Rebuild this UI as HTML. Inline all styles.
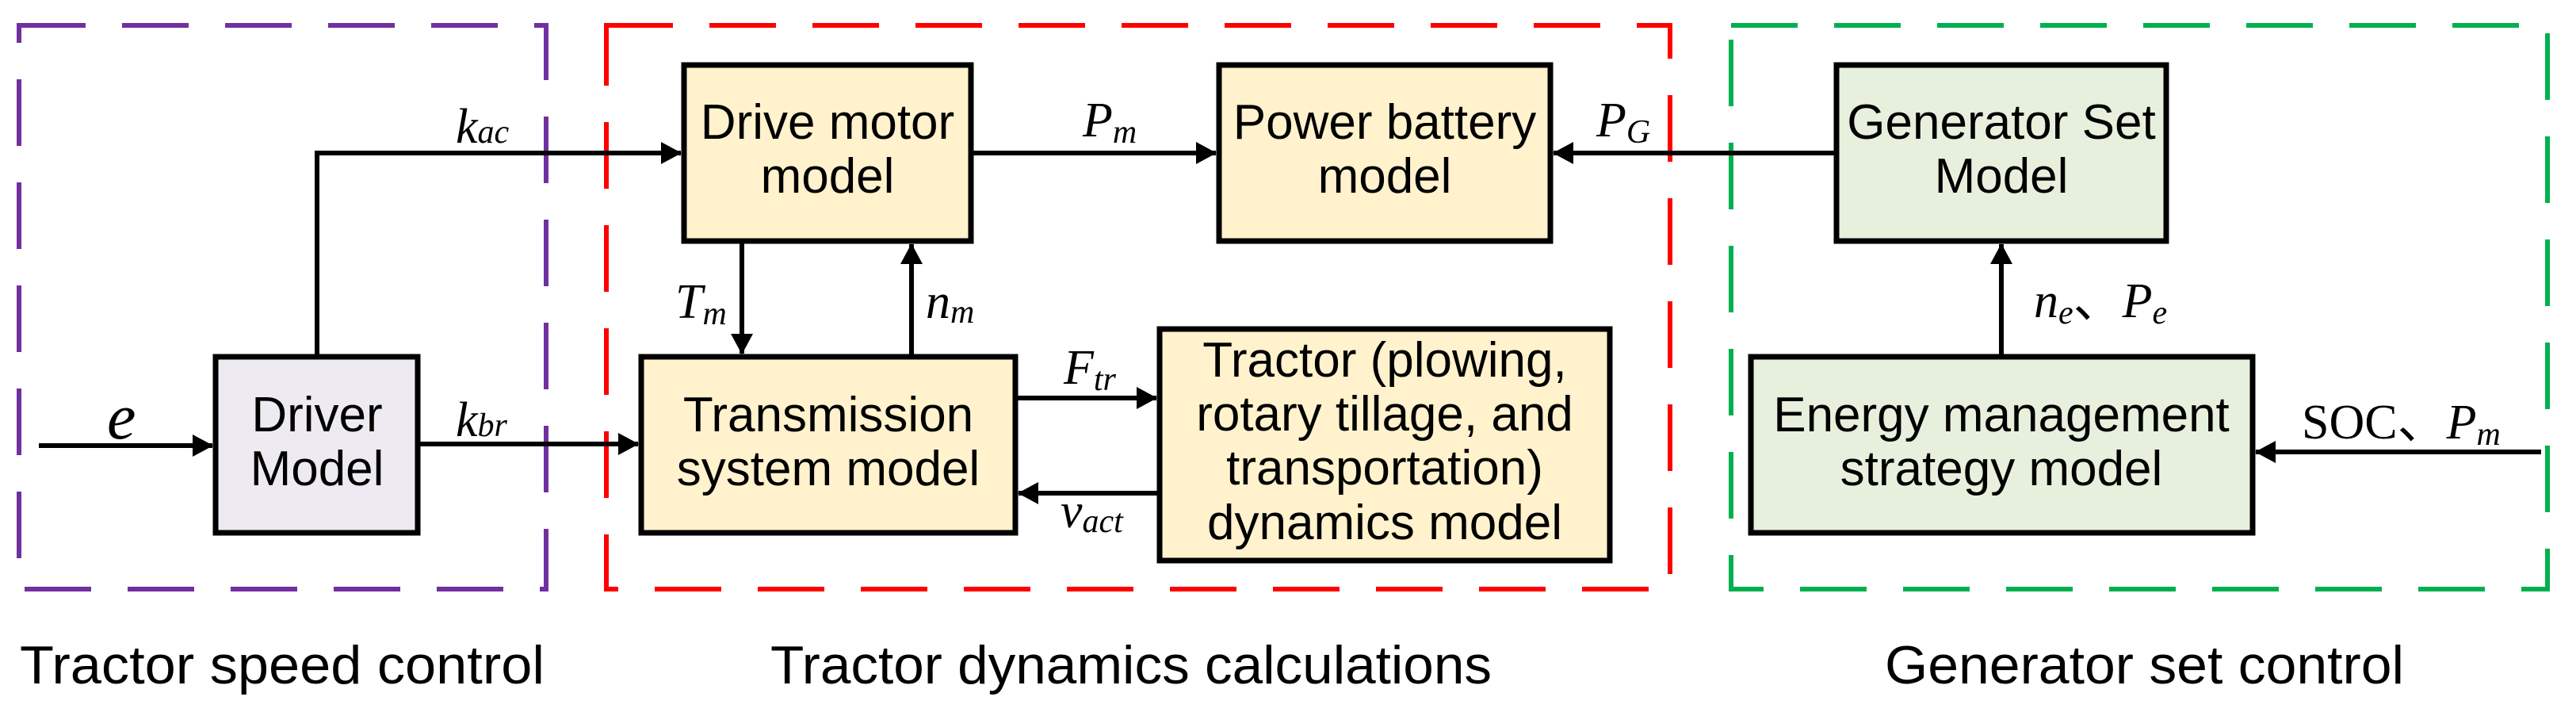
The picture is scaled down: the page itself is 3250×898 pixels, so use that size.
<!DOCTYPE html>
<html><head><meta charset="utf-8"><style>
html,body{margin:0;padding:0;background:#fff;}
svg{display:block;}
.b{font-family:"Liberation Sans",sans-serif;font-size:62px;fill:#000;text-anchor:middle;}
.m{font-family:"Liberation Serif",serif;font-style:italic;font-size:62px;fill:#000;}
.s{font-size:42px;}
.cap{font-family:"Liberation Sans",sans-serif;font-size:68px;fill:#000;}
</style></head><body>
<svg width="3250" height="898" viewBox="0 0 3250 898" xmlns="http://www.w3.org/2000/svg">
<defs>
<marker id="a" markerWidth="26" markerHeight="28" refX="25" refY="14" orient="auto" markerUnits="userSpaceOnUse">
<path d="M0,0 L26,14 L0,28 Z" fill="#000"/></marker>
</defs>
<g fill="none" stroke-width="6" stroke-dasharray="84 46">
<rect x="24" y="32" width="665" height="711" stroke="#7030A0"/>
<rect x="765" y="32" width="1342" height="711" stroke="#FF0000"/>
<rect x="2184" y="32" width="1030" height="711" stroke="#00B050"/>
</g>
<g stroke="#000" stroke-width="7">
<rect x="272" y="450" width="255" height="222" fill="#EEEAF1"/>
<rect x="863" y="82" width="362" height="222" fill="#FFF2CC"/>
<rect x="809" y="450" width="472" height="222" fill="#FFF2CC"/>
<rect x="1538" y="82" width="418" height="222" fill="#FFF2CC"/>
<rect x="1463" y="415" width="568" height="292" fill="#FFF2CC"/>
<rect x="2317" y="82" width="416" height="222" fill="#E7F0DD"/>
<rect x="2209" y="450" width="633" height="222" fill="#E7F0DD"/>
</g>
<g stroke="#000" stroke-width="6" fill="none">
<line x1="49" y1="562" x2="268" y2="562" marker-end="url(#a)"/>
<polyline points="400,450 400,193 859,193" marker-end="url(#a)"/>
<line x1="527" y1="560" x2="805" y2="560" marker-end="url(#a)"/>
<line x1="936" y1="304" x2="936" y2="446" marker-end="url(#a)"/>
<line x1="1150" y1="450" x2="1150" y2="308" marker-end="url(#a)"/>
<line x1="1225" y1="193" x2="1534" y2="193" marker-end="url(#a)"/>
<line x1="2317" y1="193" x2="1960" y2="193" marker-end="url(#a)"/>
<line x1="1281" y1="502" x2="1459" y2="502" marker-end="url(#a)"/>
<line x1="1463" y1="622" x2="1285" y2="622" marker-end="url(#a)"/>
<line x1="2525" y1="450" x2="2525" y2="308" marker-end="url(#a)"/>
<line x1="3206" y1="570" x2="2846" y2="570" marker-end="url(#a)"/>
</g>
<text class="b" x="400" y="544">Driver</text>
<text class="b" x="400" y="612">Model</text>
<text class="b" x="1044" y="175">Drive motor</text>
<text class="b" x="1044" y="243">model</text>
<text class="b" x="1045" y="544">Transmission</text>
<text class="b" x="1045" y="612">system model</text>
<text class="b" x="1747" y="175">Power battery</text>
<text class="b" x="1747" y="243">model</text>
<text class="b" x="1747" y="475">Tractor (plowing,</text>
<text class="b" x="1747" y="543">rotary tillage, and</text>
<text class="b" x="1747" y="611">transportation)</text>
<text class="b" x="1747" y="680">dynamics model</text>
<text class="b" x="2525" y="175">Generator Set</text>
<text class="b" x="2525" y="243">Model</text>
<text class="b" x="2525" y="544">Energy management</text>
<text class="b" x="2525" y="612">strategy model</text>
<text class="m" x="135" y="553" style="font-size:82px">e</text>
<text class="m" x="575" y="180">k<tspan class="s">ac</tspan></text>
<text class="m" x="575" y="550">k<tspan class="s">br</tspan></text>
<text class="m" x="852" y="401">T<tspan class="s" dy="8">m</tspan></text>
<text class="m" x="1168" y="401">n<tspan class="s" dy="6">m</tspan></text>
<text class="m" x="1366" y="172">P<tspan class="s" dy="8">m</tspan></text>
<text class="m" x="2014" y="172">P<tspan class="s" dy="8">G</tspan></text>
<text class="m" x="1342" y="484">F<tspan class="s" dy="8">tr</tspan></text>
<text class="m" x="1338" y="665">v<tspan class="s" dy="6">act</tspan></text>
<text class="m" x="2566" y="400">n<tspan class="s" dy="8">e</tspan><tspan style="font-style:normal" dy="-8" font-family="Noto Sans CJK SC">、</tspan>P<tspan class="s" dy="8">e</tspan></text>
<text class="m" x="2904" y="553"><tspan style="font-style:normal">SOC</tspan><tspan style="font-style:normal" font-family="Noto Sans CJK SC">、</tspan>P<tspan class="s" dy="8">m</tspan></text>
<text class="cap" x="25" y="862" textLength="662" lengthAdjust="spacingAndGlyphs">Tractor speed control</text>
<text class="cap" x="972" y="862" textLength="910" lengthAdjust="spacingAndGlyphs">Tractor dynamics calculations</text>
<text class="cap" x="2378" y="862" textLength="655" lengthAdjust="spacingAndGlyphs">Generator set control</text>
</svg>
</body></html>
